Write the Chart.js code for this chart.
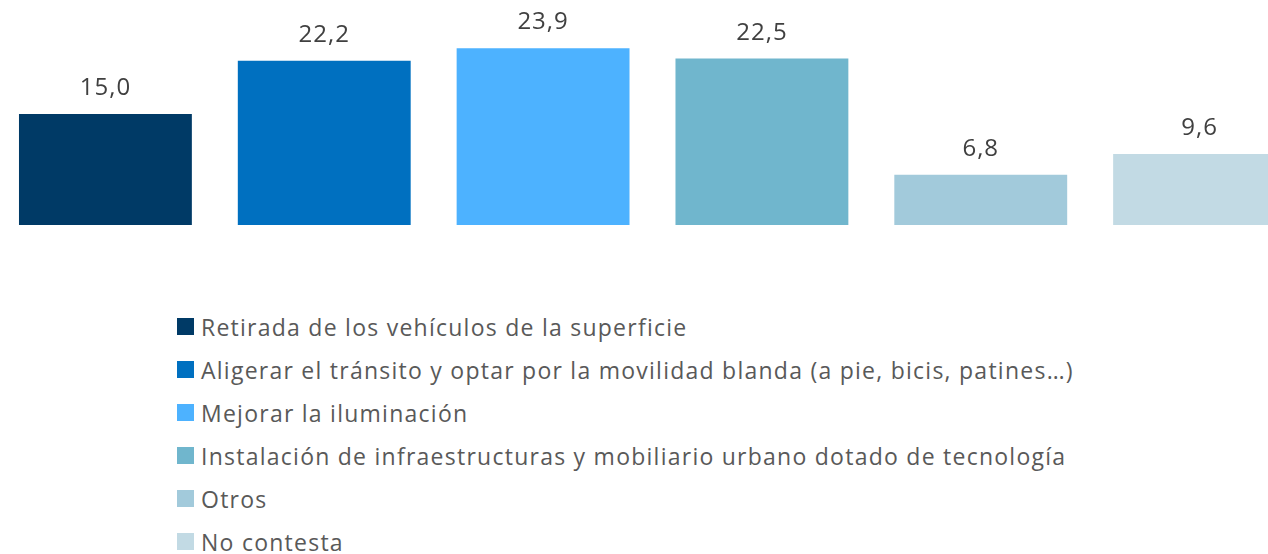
<!DOCTYPE html>
<html>
<head>
<meta charset="utf-8">
<script src="https://cdn.jsdelivr.net/npm/chart.js@4"></script>
<style>
  html, body { margin: 0; padding: 0; background: #fff; overflow: hidden; }
  body { width: 1268px; height: 554px; position: relative; }
  #chart { position: absolute; left: -4px; top: 0; }
  #legend { position: absolute; left: 177px; top: 318px; margin: 0; padding: 0; list-style: none;
            font-family: "Open Sans", sans-serif; font-size: 23px; letter-spacing: 1.25px; color: #595959; }
  #legend li { display: flex; align-items: center; height: 17px; margin-bottom: 26px; white-space: nowrap; }
  #legend .box { width: 17px; height: 17px; margin-right: 7px; flex: none; }
</style>
</head>
<body>
<canvas id="chart" width="1313" height="230"></canvas>
<ul id="legend"></ul>
<script>
const categories = [
  "Retirada de los vehículos de la superficie",
  "Aligerar el tránsito y optar por la movilidad blanda (a pie, bicis, patines…)",
  "Mejorar la iluminación",
  "Instalación de infraestructuras y mobiliario urbano dotado de tecnología",
  "Otros",
  "No contesta"
];
const values = [15.0, 22.2, 23.9, 22.5, 6.8, 9.6];
const colors = ["#003A66", "#0070C0", "#4DB2FF", "#70B6CD", "#A2CADB", "#C2DAE4"];

// value labels above each bar, decimal comma
const barLabels = {
  id: "barLabels",
  afterDatasetsDraw(chart) {
    const ctx = chart.ctx;
    const meta = chart.getDatasetMeta(0);
    ctx.save();
    ctx.font = '24px "Open Sans", sans-serif';
    ctx.letterSpacing = "1px";
    ctx.fillStyle = "#404040";
    ctx.textAlign = "center";
    ctx.textBaseline = "alphabetic";
    meta.data.forEach((bar, i) => {
      const txt = values[i].toFixed(1).replace(".", ",");
      ctx.fillText(txt, bar.x, bar.y - 19);
    });
    ctx.restore();
  }
};

const chart = new Chart(document.getElementById("chart").getContext("2d"), {
  type: "bar",
  data: {
    labels: categories,
    datasets: [{
      data: values,
      backgroundColor: colors,
      borderWidth: 0,
      categoryPercentage: 1,
      barPercentage: 0.79,
    }],
  },
  options: {
    responsive: false,
    animation: false,
    layout: { padding: { top: 3, bottom: 5, left: 0, right: 0 } },
    scales: {
      x: { display: false },
      y: { display: false, min: 0, max: 30 },
    },
    plugins: {
      legend: { display: false },
      tooltip: { enabled: false },
    },
  },
  plugins: [barLabels],
});

// legend list under the bars
const legendEl = document.getElementById("legend");
categories.forEach((name, i) => {
  const li = document.createElement("li");
  const box = document.createElement("span");
  box.className = "box";
  box.style.background = colors[i];
  li.appendChild(box);
  li.appendChild(document.createTextNode(name));
  legendEl.appendChild(li);
});
</script>
</body>
</html>
